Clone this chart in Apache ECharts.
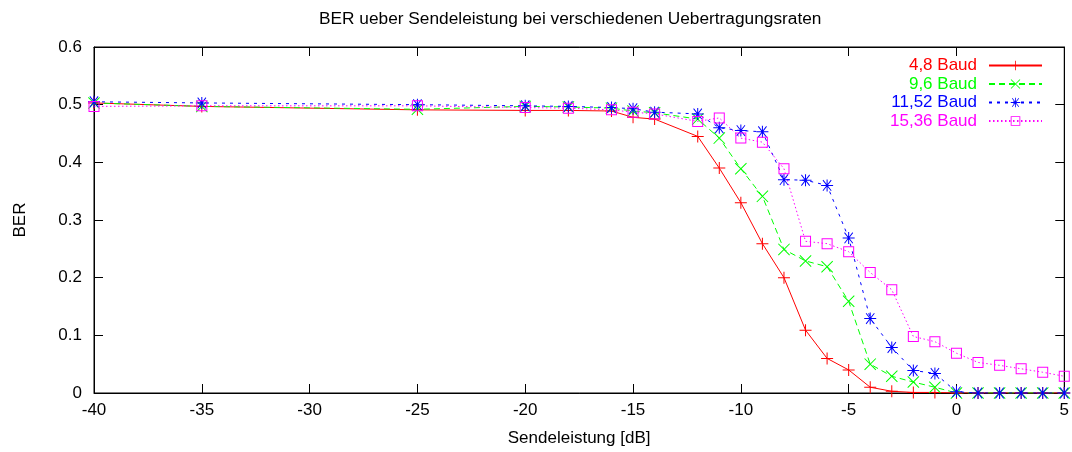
<!DOCTYPE html>
<html><head><meta charset="utf-8">
<script src="https://cdn.jsdelivr.net/npm/echarts@6/dist/echarts.min.js"></script>
<style>html,body{margin:0;padding:0;background:#fff}#c{width:1072px;height:452px}</style>
</head><body><div id="c"></div>
<script>
const xs = [-40,-35,-25,-20,-18,-16,-15,-14,-12,-11,-10,-9,-8,-7,-6,-5,-4,-3,-2,-1,0,1,2,3,4,5];
const ber48 = [0.503,0.497,0.491,0.490,0.490,0.489,0.478,0.475,0.445,0.390,0.330,0.259,0.200,0.109,0.060,0.040,0.010,0.003,0.001,0.001,0,0,0,0,0,0];
const ber96 = [0.503,0.497,0.492,0.497,0.496,0.494,0.489,0.486,0.475,0.442,0.389,0.341,0.249,0.229,0.219,0.159,0.050,0.029,0.019,0.010,0,0,0,0,0,0];
const ber1152 = [0.505,0.503,0.500,0.498,0.497,0.495,0.493,0.487,0.484,0.460,0.455,0.453,0.370,0.369,0.360,0.269,0.129,0.079,0.039,0.034,0.002,0,0,0,0,0];
const ber1536 = [0.497,0.498,0.498,0.495,0.494,0.491,0.487,0.484,0.471,0.477,0.442,0.435,0.389,0.263,0.259,0.245,0.209,0.179,0.098,0.089,0.069,0.053,0.048,0.042,0.036,0.029];
const names = ['4,8 Baud','9,6 Baud','11,52 Baud','15,36 Baud'];
const colors = ['#ff0000','#00ff00','#0000ff','#ff00ff'];
const values = [ber48, ber96, ber1152, ber1536];

const PLUS = 'path://M0,5.5 H12 V6.5 H0 Z M5.5,0 H6.5 V12 H5.5 Z';
const CROSS = 'path://M0,0.7 L0.7,0 L12,11.3 L11.3,12 Z M11.3,0 L12,0.7 L0.7,12 L0,11.3 Z';
const STAR = 'path://M0,5.5 H12 V6.5 H0 Z M5.5,0 H6.5 V12 H5.5 Z M1.5,1.0 L2.2,0.3 L10.5,11 L9.8,11.7 Z M9.8,0.3 L10.5,1.0 L2.2,11.7 L1.5,11 Z';
const SQUARE = 'path://M0,0 H11 V11 H0 Z M1,1 V10 H10 V1 Z';
const symbols = [PLUS, CROSS, STAR, SQUARE];
const sizes = [12, 12, 12, 11];
const lineTypes = ['solid', [6,4], [3,5], [1.5,2.5]];

const FONT = 'Liberation Sans, Arial, Helvetica, sans-serif';
const FS = 17;
const chart = echarts.init(document.getElementById('c'));

const series = names.map((n,i)=>({
  name: n, type: 'line',
  data: xs.map((x,k)=>[x, values[i][k]]),
  xAxisIndex: 0, yAxisIndex: 0,
  symbol: symbols[i], symbolSize: sizes[i], showAllSymbol: true,
  color: colors[i],
  itemStyle: {color: colors[i], borderWidth: 0},
  lineStyle: {color: colors[i], width: 1, type: lineTypes[i]},
  animation: false
}));

const legendTops = [57, 75.5, 94, 112.5];
const legends = names.map((n,i)=>({
  data: [{name: n, textStyle: {color: colors[i]}}],
  right: 29, top: legendTops[i], orient: 'vertical', align: 'right',
  padding: 0, itemWidth: 53, itemHeight: 12,
  textStyle: {fontFamily: FONT, fontSize: FS, color: colors[i], padding: [0,7,0,0]},
  selectedMode: false
}));

const tickStyle = {show: true, inside: true, length: 9, lineStyle: {color: '#000', width: 1}};
chart.setOption({
  animation: false,
  title: {text: 'BER ueber Sendeleistung bei verschiedenen Uebertragungsraten', left: 314, top: 6,
    textStyle: {fontFamily: FONT, fontSize: 17.3, fontWeight: 'normal', color: '#000'}},
  legend: legends,
  grid: {left: 94, right: 6, top: 47, bottom: 56, show: true, borderColor: '#000', borderWidth: 1, containLabel: false},
  xAxis: [{
    type: 'value', min: -40, max: 5, interval: 5, position: 'bottom',
    name: 'Sendeleistung [dB]', nameLocation: 'middle', nameGap: 37,
    nameTextStyle: {fontFamily: FONT, fontSize: FS, color: '#000'},
    axisLine: {show: true, onZero: false, lineStyle: {color: '#000', width: 1}},
    axisTick: tickStyle, splitLine: {show: false},
    axisLabel: {fontFamily: FONT, fontSize: FS, color: '#000', margin: 9}
  },{
    type: 'value', min: -40, max: 5, interval: 5, position: 'top',
    axisLine: {show: true, onZero: false, lineStyle: {color: '#000'}},
    axisTick: tickStyle, axisLabel: {show: false}, splitLine: {show: false}
  }],
  yAxis: [{
    type: 'value', min: 0, max: 0.6, interval: 0.1, position: 'left',
    name: 'BER', nameLocation: 'middle', nameGap: 65, nameRotate: 90,
    nameTextStyle: {fontFamily: FONT, fontSize: FS, color: '#000'},
    axisLine: {show: true, onZero: false, lineStyle: {color: '#000', width: 1}},
    axisTick: tickStyle, splitLine: {show: false},
    axisLabel: {fontFamily: FONT, fontSize: FS, color: '#000', margin: 12,
      formatter: v => (Math.round(v*10)/10).toString()}
  },{
    type: 'value', min: 0, max: 0.6, interval: 0.1, position: 'right',
    axisLine: {show: true, onZero: false, lineStyle: {color: '#000'}},
    axisTick: tickStyle, axisLabel: {show: false}, splitLine: {show: false}
  }],
  series: series
});
</script></body></html>
